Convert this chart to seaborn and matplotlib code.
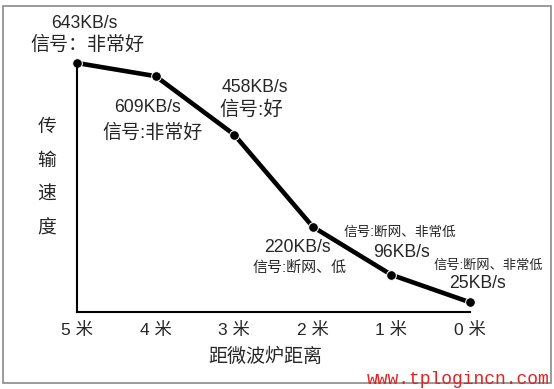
import numpy as np
import pandas as pd
import seaborn as sns
import matplotlib.pyplot as plt
from matplotlib.patches import Rectangle

# Data
distance = [5, 4, 3, 2, 1, 0]
speed = [643, 609, 458, 220, 96, 25]
speed_labels = ["643KB/s", "609KB/s", "458KB/s", "220KB/s", "96KB/s", "25KB/s"]
signal_labels = ["信号：非常好", "信号:非常好", "信号:好", "信号:断网、低",
                 "信号:断网、非常低", "信号:断网、非常低"]
tick_labels = ["5 米", "4 米", "3 米", "2 米", "1 米", "0 米"]
ylabel_text = "传输速度"
xlabel_text = "距微波炉距离"
watermark = "www.tplogincn.com"

df = pd.DataFrame({"distance": distance, "speed": speed})

sns.set_style("white")
plt.rcParams["font.family"] = ["Liberation Sans", "Noto Sans CJK SC", "DejaVu Sans"]
plt.rcParams["font.weight"] = "medium"

W, H = 554, 389
fig = plt.figure(figsize=(W / 100, H / 100), dpi=100)
# axes box in pixels: left 77, right 470, top 63, bottom 312
ax = fig.add_axes([77 / W, 1 - 312 / H, (470 - 77) / W, (312 - 63) / H])

sns.lineplot(data=df, x="distance", y="speed", ax=ax, color="black",
             linewidth=3.3, marker="o", markersize=7, clip_on=False)

ax.set_xlim(5, 0)
ax.set_ylim(0, 643)
ax.set_xticks(distance)
ax.set_xticklabels(tick_labels, fontsize=12.5)
ax.set_yticks([])
ax.set_ylabel("")
ax.tick_params(axis="x", direction="in", length=6, width=1.5, pad=7, color="black")
for s in ["top", "right"]:
    ax.spines[s].set_visible(False)
for s in ["left", "bottom"]:
    ax.spines[s].set_linewidth(1.5)
    ax.spines[s].set_color("black")

# label offsets in pixels (dx, dy) for speed line and signal line
speed_off = [(7, 40), (-8, -31), (21, 47), (-15, -21), (10, 22), (7, 19)]
signal_off = [(10, 18), (-3, -57), (17, 25), (-13, -41), (9, 43), (18, 37)]
signal_size = [13.7, 13.7, 14, 10.8, 9.8, 9.5]
for i in range(len(distance)):
    ax.annotate(speed_labels[i], xy=(distance[i], speed[i]), xytext=speed_off[i],
                textcoords="offset pixels", ha="center", va="center", fontsize=12.7)
    ax.annotate(signal_labels[i], xy=(distance[i], speed[i]), xytext=signal_off[i],
                textcoords="offset pixels", ha="center", va="center",
                fontsize=signal_size[i])

# vertical stacked y label
for i, ch in enumerate(ylabel_text):
    fig.text(47 / W, 1 - (127 + i * 34) / H, ch, ha="center", va="center", fontsize=13.5)

ax.set_xlabel(xlabel_text, fontsize=13.7)
ax.xaxis.set_label_coords((265 - 77) / 393, (312 - 348) / 249)

fig.text(367 / W, 1 - 380 / H, watermark, ha="left", va="center",
         family="Liberation Mono", color="#e02424", fontsize=13)

fig.patches.append(Rectangle((3.5 / W, 1 - 383 / H), (551 - 3.5) / W, (383 - 5.5) / H,
                             transform=fig.transFigure, fill=False,
                             edgecolor="#8a8a8a", linewidth=1.2))

fig.savefig("out.png", dpi=100)
